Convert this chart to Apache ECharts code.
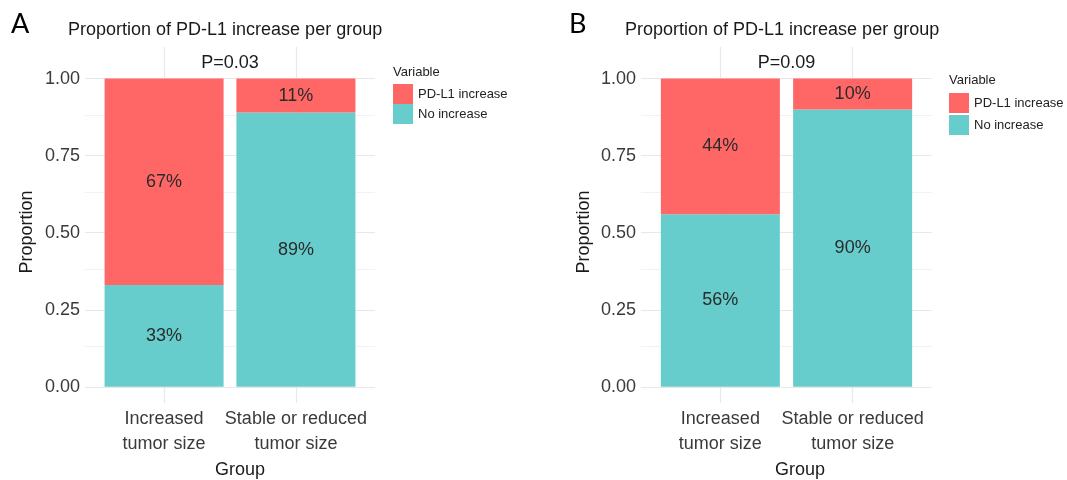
<!DOCTYPE html>
<html>
<head>
<meta charset="utf-8">
<script src="https://cdn.jsdelivr.net/npm/echarts@6/dist/echarts.min.js"></script>
<style>
  html, body { margin: 0; padding: 0; background: #fff; }
  #chart { width: 1067px; height: 480px; }
</style>
</head>
<body>
<div id="chart"></div>
<script>
// Group categories (x positions 1 and 2 on each panel)
const groups = ['Increased\ntumor size', 'Stable or reduced\ntumor size'];
const groupPos = [1, 2];

// Panel A proportions
const increaseA = [0.67, 0.11];
const noIncreaseA = [0.33, 0.89];
// Panel B proportions
const increaseB = [0.44, 0.10];
const noIncreaseB = [0.56, 0.90];

// P-value annotations
const pLabels = ['P=0.03', 'P=0.09'];
const pPos = [1.5, 1.05];

// Y axis ticks
const yTicks = [0, 0.25, 0.5, 0.75, 1.0];
const yMinorTicks = [0.125, 0.375, 0.625, 0.875];

const panelLetters = ['A', 'B'];
const panelTitle = 'Proportion of PD-L1 increase per group';
const legendTitle = 'Variable';
const seriesNames = ['PD-L1 increase', 'No increase'];

const RED = '#FF6666';
const TEAL = '#66CCCC';
const FONT = "'Liberation Sans', Arial, sans-serif";

const grids = [
  { left: 85, top: 47, width: 290, height: 356 },
  { left: 641, top: 47, width: 291, height: 356 }
];

function pct(v) { return Math.round(v * 100) + '%'; }

const xAxes = grids.map((g, i) => ({
  type: 'value', gridIndex: i, min: 0.4, max: 2.6, interval: 0.2,
  axisLine: { show: false }, axisTick: { show: false }, splitLine: { show: false },
  axisLabel: {
    margin: 4, fontSize: 18, lineHeight: 25, color: '#3a3a3a', fontFamily: FONT,
    formatter: v => {
      const k = Math.round(v);
      return Math.abs(v - k) < 1e-6 && groupPos.indexOf(k) >= 0 ? groups[groupPos.indexOf(k)] : '';
    }
  }
}));

const yAxes = grids.map((g, i) => ({
  type: 'value', gridIndex: i, min: -0.0525, max: 1.1025,
  axisLine: { show: false }, axisTick: { show: false }, splitLine: { show: false },
  axisLabel: {
    customValues: yTicks, margin: 5, fontSize: 18, color: '#3a3a3a', fontFamily: FONT,
    formatter: v => v.toFixed(2)
  }
}));

const panels = [
  { inc: increaseA, no: noIncreaseA },
  { inc: increaseB, no: noIncreaseB }
];

const series = [];
panels.forEach((p, i) => {
  // background grid lines
  const gridLines = []
    .concat(yMinorTicks.map(v => ({ yAxis: v, lineStyle: { color: '#F2F2F2', width: 1, type: 'solid' } })))
    .concat(yTicks.map(v => ({ yAxis: v, lineStyle: { color: '#E8E8E8', width: 1.2, type: 'solid' } })))
    .concat(groupPos.map(v => ({ xAxis: v, lineStyle: { color: '#E8E8E8', width: 1.2, type: 'solid' } })));
  series.push({
    type: 'line', xAxisIndex: i, yAxisIndex: i, data: [], z: 0, silent: true,
    markLine: { z: 0, silent: true, symbol: 'none', label: { show: false }, animation: false, data: gridLines }
  });
  const labelStyle = {
    show: true, position: 'inside', fontSize: 18, color: '#2b2b2b', fontFamily: FONT,
    formatter: d => pct(d.value[0])
  };
  // values first so the stack runs along the y dimension
  series.push({
    name: seriesNames[1], type: 'bar', stack: 'p' + i, xAxisIndex: i, yAxisIndex: i,
    encode: { x: 1, y: 0 },
    barWidth: 119, z: 2, itemStyle: { color: TEAL },
    label: labelStyle,
    data: groupPos.map((x, k) => [p.no[k], x])
  });
  series.push({
    name: seriesNames[0], type: 'bar', stack: 'p' + i, xAxisIndex: i, yAxisIndex: i,
    encode: { x: 1, y: 0 },
    barWidth: 119, z: 2, itemStyle: { color: RED },
    label: labelStyle,
    data: groupPos.map((x, k) => [p.inc[k], x])
  });
  series.push({
    type: 'scatter', xAxisIndex: i, yAxisIndex: i, symbolSize: 0, silent: true, z: 3,
    itemStyle: { opacity: 1 },
    label: { show: true, position: 'inside', fontSize: 18, color: '#1a1a1a', opacity: 1, fontFamily: FONT, formatter: () => pLabels[i] },
    data: [pPos]
  });
});

const titleDefs = [
  { text: panelLetters[0], left: 11, top: 11, textStyle: { fontSize: 27, fontFamily: 'Lato, sans-serif', fontWeight: 'normal', color: '#000' } },
  { text: panelTitle, left: 68, top: 21, textStyle: { fontSize: 18, fontFamily: FONT, fontWeight: 'normal', color: '#1a1a1a' } },
  { text: legendTitle, left: 393, top: 66, textStyle: { fontSize: 13, fontFamily: FONT, fontWeight: 'normal', color: '#222' } },
  { text: panelLetters[1], left: 569, top: 11, textStyle: { fontSize: 27, fontFamily: 'Lato, sans-serif', fontWeight: 'normal', color: '#000' } },
  { text: panelTitle, left: 625, top: 21, textStyle: { fontSize: 18, fontFamily: FONT, fontWeight: 'normal', color: '#1a1a1a' } },
  { text: legendTitle, left: 949, top: 74, textStyle: { fontSize: 13, fontFamily: FONT, fontWeight: 'normal', color: '#222' } }
].map(t => Object.assign({ padding: 0 }, t));

const legendBase = {
  orient: 'vertical', icon: 'rect', itemWidth: 20, itemHeight: 20, padding: 0,
  selectedMode: false, data: seriesNames,
  textStyle: { fontSize: 13, fontFamily: FONT, color: '#222' }
};

const chart = echarts.init(document.getElementById('chart'), null, { renderer: 'canvas' });
chart.setOption({
  animation: false,
  backgroundColor: '#fff',
  title: titleDefs,
  legend: [
    Object.assign({}, legendBase, { left: 393, top: 84, itemGap: 0 }),
    Object.assign({}, legendBase, { left: 949, top: 93, itemGap: 2 })
  ],
  grid: grids,
  xAxis: xAxes,
  yAxis: yAxes,
  series: series,
  graphic: [
    { type: 'text', x: 27.5, y: 232, rotation: Math.PI / 2,
      style: { text: 'Proportion', font: '18px ' + FONT, fill: '#1a1a1a', textAlign: 'center', textVerticalAlign: 'middle' } },
    { type: 'text', x: 584, y: 232, rotation: Math.PI / 2,
      style: { text: 'Proportion', font: '18px ' + FONT, fill: '#1a1a1a', textAlign: 'center', textVerticalAlign: 'middle' } },
    { type: 'text', x: 240, y: 470,
      style: { text: 'Group', font: '18px ' + FONT, fill: '#1a1a1a', textAlign: 'center', textVerticalAlign: 'middle' } },
    { type: 'text', x: 800, y: 470,
      style: { text: 'Group', font: '18px ' + FONT, fill: '#1a1a1a', textAlign: 'center', textVerticalAlign: 'middle' } }
  ]
});
</script>
</body>
</html>
